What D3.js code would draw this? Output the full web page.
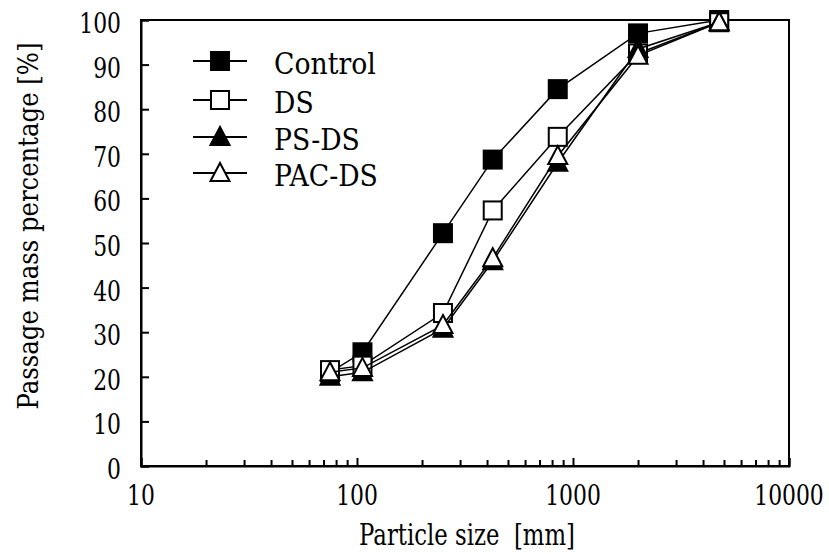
<!DOCTYPE html>
<html>
<head>
<meta charset="utf-8">
<script src="https://cdn.jsdelivr.net/npm/d3@7"></script>
<style>
  html, body { margin: 0; padding: 0; background: #fff; }
  svg { display: block; }
</style>
</head>
<body>
<svg id="chart" width="829" height="554"></svg>
<script>
// ---- data ----
const sizes   = [75, 106, 250, 425, 850, 2000, 4750];
const control = [21, 25.5, 52.2, 68.7, 84.5, 97, 100];
const ds      = [21.5, 22.5, 34.3, 57.3, 73.8, 92.5, 99.5];
const psds    = [20, 21, 30.8, 45.9, 68, 93.5, 99.5];
const pacds   = [21, 22, 31.6, 46.6, 69.5, 92, 99.5];
const seriesNames = ["Control", "DS", "PS-DS", "PAC-DS"];
const xTickLabels = [10, 100, 1000, 10000];
const yTickLabels = [0, 10, 20, 30, 40, 50, 60, 70, 80, 90, 100];

const FONT = "'DejaVu Serif', serif";

const series = [
  { name: seriesNames[0], values: control, shape: "square",   fill: "#000" },
  { name: seriesNames[1], values: ds,      shape: "square",   fill: "#fff" },
  { name: seriesNames[2], values: psds,    shape: "triangle", fill: "#000" },
  { name: seriesNames[3], values: pacds,   shape: "triangle", fill: "#fff" }
];

const W = 829, H = 554;
const m = { left: 141, right: 40, top: 20, bottom: 88 };
const svg = d3.select("#chart");

const x = d3.scaleLog().domain([10, 10000]).range([m.left, W - m.right]);
const y = d3.scaleLinear().domain([0, 100]).range([H - m.bottom, m.top]);

// text drawn at (px,py), condensed horizontally by factor k (reference font is narrow)
function label(parent, str, px, py, size, anchor, k, rot) {
  const g = parent.append("g")
    .attr("transform", `translate(${px},${py})` + (rot ? ` rotate(${rot})` : "") + ` scale(${k},1)`);
  return g.append("text").attr("x", 0).attr("y", 0)
    .attr("text-anchor", anchor).attr("font-size", size).attr("font-family", FONT)
    .attr("xml:space", "preserve").text(str);
}

// frame
svg.append("rect")
  .attr("x", m.left).attr("y", m.top)
  .attr("width", W - m.left - m.right).attr("height", H - m.top - m.bottom)
  .attr("fill", "none").attr("stroke", "#000").attr("stroke-width", 2);

// y axis (ticks inward)
const gy = svg.append("g").attr("transform", `translate(${m.left},0)`)
  .call(d3.axisRight(y).tickValues(yTickLabels).tickSize(8).tickFormat(""));
gy.select(".domain").attr("stroke-width", 2);
gy.selectAll(".tick line").attr("stroke-width", 2);
const ylg = svg.append("g");
yTickLabels.forEach(d => label(ylg, String(d), m.left - 20, y(d) + 13, 27, "end", 0.81));

// x axis (ticks inward), minor ticks
const minor = [];
for (let dec = 10; dec < 10000; dec *= 10) for (let k = 2; k <= 9; k++) minor.push(dec * k);
const gxMinor = svg.append("g").attr("transform", `translate(0,${H - m.bottom})`)
  .call(d3.axisTop(x).tickValues(minor).tickSize(6).tickFormat(""));
gxMinor.select(".domain").remove();
gxMinor.selectAll(".tick line").attr("stroke-width", 2);
const gx = svg.append("g").attr("transform", `translate(0,${H - m.bottom})`)
  .call(d3.axisTop(x).tickValues(xTickLabels).tickSize(8).tickFormat(""));
gx.select(".domain").attr("stroke-width", 2);
gx.selectAll(".tick line").attr("stroke-width", 2);
const xlg = svg.append("g");
xTickLabels.forEach(d => label(xlg, String(d), x(d), 505, 27, "middle", 0.81));

// axis titles
label(svg, "Particle size  [mm]", 467, 545, 30, "middle", 0.76);
label(svg, "Passage mass percentage [%]", 38, 226, 28, "middle", 0.87, -90);

// markers
const sq = 18;
function marker(g, shape, fill) {
  if (shape === "square") {
    g.append("rect").attr("x", -sq / 2).attr("y", -sq / 2).attr("width", sq).attr("height", sq)
      .attr("fill", fill).attr("stroke", "#000").attr("stroke-width", 2);
  } else {
    g.append("path").attr("d", "M0,-10 L9.5,8 L-9.5,8 Z")
      .attr("fill", fill).attr("stroke", "#000").attr("stroke-width", 2)
      .attr("stroke-linejoin", "miter");
  }
}

const line = d3.line().x(d => x(d[0])).y(d => y(d[1]));
series.forEach(s => {
  const pts = sizes.map((v, i) => [v, s.values[i]]);
  svg.append("path").datum(pts).attr("d", line)
    .attr("fill", "none").attr("stroke", "#000").attr("stroke-width", 1.5);
  pts.forEach(p => {
    const g = svg.append("g").attr("transform", `translate(${x(p[0])},${y(p[1])})`);
    marker(g, s.shape, s.fill);
  });
});

// legend
const legY = [61, 100, 137, 173];
series.forEach((s, i) => {
  const g = svg.append("g").attr("transform", `translate(220,${legY[i]})`);
  g.append("line").attr("x1", -27).attr("x2", 27).attr("stroke", "#000").attr("stroke-width", 2);
  marker(g, s.shape, s.fill);
  label(svg, s.name, 274, legY[i] + 12.5, 30, "start", 0.89);
});
</script>
</body>
</html>
